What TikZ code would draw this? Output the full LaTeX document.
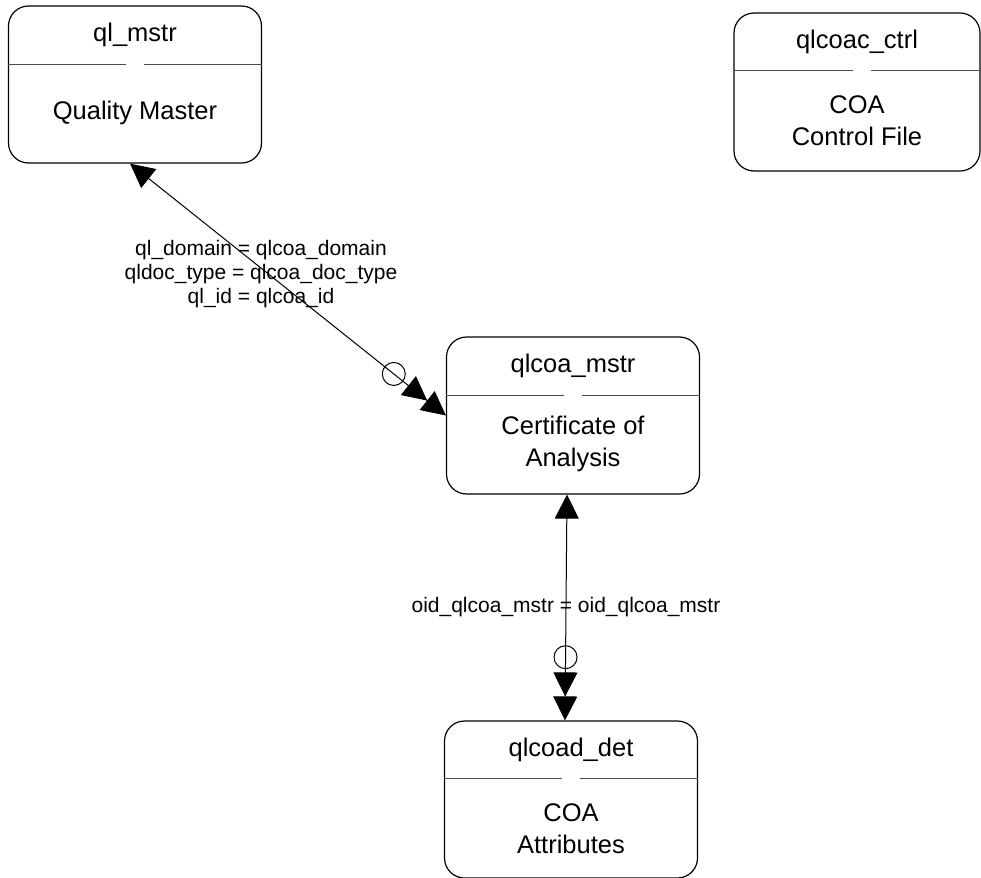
\documentclass[tikz,border=0pt]{standalone}
\usepackage{fontspec}
\setmainfont{Liberation Sans}
\usetikzlibrary{arrows.meta}

\begin{document}
\begin{tikzpicture}[
    x=0.5pt, y=-0.5pt,
    >={Triangle[length=12pt, width=12pt, sep=0pt]},
    entity/.style={rectangle, draw=black, line width=0.6pt, rounded corners=10pt, minimum width=126.5pt, minimum height=78.5pt, inner sep=0pt},
    ttl/.style={font=\fontsize{12.75}{16}\selectfont, text height=0.75em, text depth=0.25em, inner sep=0pt},
    body/.style={align=center, font=\fontsize{12.75}{16}\selectfont, inner sep=0pt},
    sepline/.style={draw=black!70, line width=0.6pt},
    rel/.style={<->>, line width=0.5pt},
    lbl/.style={align=center, font=\fontsize{10.5}{12}\selectfont, inner sep=0pt},
    ring/.style={circle, draw, line width=0.5pt, minimum size=11.5pt, inner sep=0pt},
]
\useasboundingbox (0,0) rectangle (981,878);

% tables
\node[entity] (qlmstr) at (135,84.5) {};
\node[ttl] (qlmstr-t) at ([yshift=-15.5pt]qlmstr.north) {ql\_mstr};
\node[body] (qlmstr-b) at ([yshift=-54pt]qlmstr.north) {Quality Master};

\node[entity, minimum width=123pt, minimum height=79pt] (qlcoac) at (857,92) {};
\node[ttl] (qlcoac-t) at ([yshift=-15.5pt]qlcoac.north) {qlcoac\_ctrl};
\node[body] (qlcoac-b) at ([yshift=-54pt]qlcoac.north) {COA\\Control File};

\node[entity] (qlcoa) at (573,415.5) {};
\node[ttl] (qlcoa-t) at ([yshift=-15.5pt]qlcoa.north) {qlcoa\_mstr};
\node[body] (qlcoa-b) at ([yshift=-54pt]qlcoa.north) {Certificate of\\Analysis};

\node[entity] (qlcoad) at (571,799.5) {};
\node[ttl] (qlcoad-t) at ([yshift=-15.5pt]qlcoad.north) {qlcoad\_det};
\node[body] (qlcoad-b) at ([yshift=-54pt]qlcoad.north) {COA\\Attributes};

% split lines
\draw[sepline] ([yshift=-29.5pt]qlmstr.north west) -- ([xshift=-4.5pt, yshift=-29.5pt]qlmstr.north);
\draw[sepline] ([xshift=4.5pt, yshift=-29.5pt]qlmstr.north) -- ([yshift=-29.5pt]qlmstr.north east);
\draw[sepline] ([yshift=-29pt]qlcoac.north west) -- ([xshift=-2pt, yshift=-29pt]qlcoac.north);
\draw[sepline] ([xshift=7pt, yshift=-29pt]qlcoac.north) -- ([yshift=-29pt]qlcoac.north east);
\draw[sepline] ([yshift=-29.5pt]qlcoa.north west) -- ([xshift=-4.5pt, yshift=-29.5pt]qlcoa.north);
\draw[sepline] ([xshift=4.5pt, yshift=-29.5pt]qlcoa.north) -- ([yshift=-29.5pt]qlcoa.north east);
\draw[sepline] ([yshift=-29pt]qlcoad.north west) -- ([xshift=-4.5pt, yshift=-29pt]qlcoad.north);
\draw[sepline] ([xshift=4.5pt, yshift=-29pt]qlcoad.north) -- ([yshift=-29pt]qlcoad.north east);

% relations
\draw[rel] ([xshift=-2.5pt]qlmstr.south) --
    node[lbl, pos=0.44, xshift=-4pt] (rel1) {ql\_domain = qlcoa\_domain\\qldoc\_type = qlcoa\_doc\_type\\ql\_id = qlcoa\_id}
    node[ring, pos=0.835] (ring1) {} (qlcoa.west);
\draw[rel] ([xshift=-3pt]qlcoa.south) --
    node[lbl, pos=0.5] (rel2) {oid\_qlcoa\_mstr = oid\_qlcoa\_mstr}
    node[ring, pos=0.72] (ring2) {} ([xshift=-3pt]qlcoad.north);
\end{tikzpicture}
\end{document}
